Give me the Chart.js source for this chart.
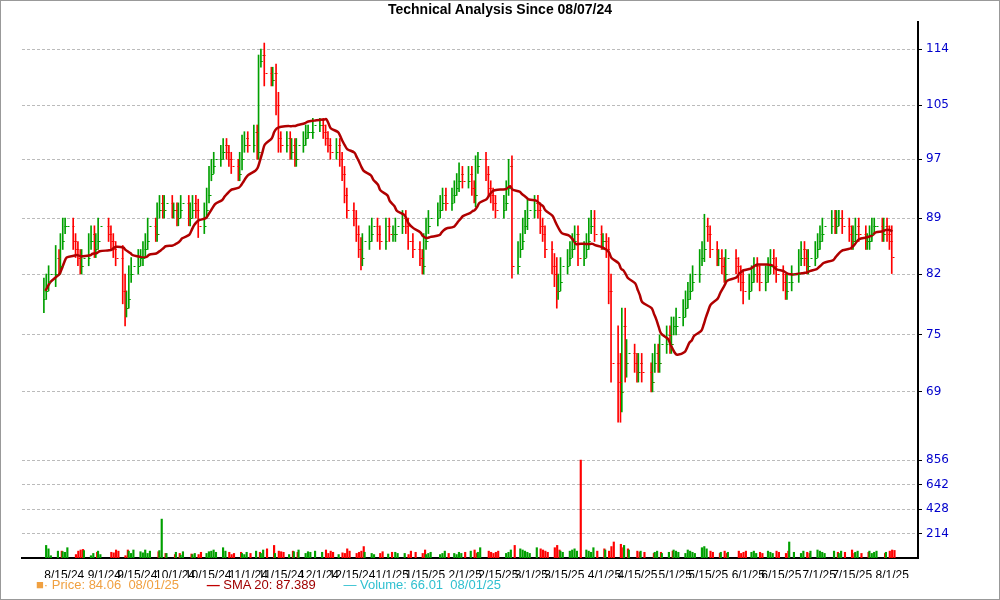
<!DOCTYPE html>
<html>
<head>
<meta charset="utf-8">
<script src="https://cdn.jsdelivr.net/npm/chart.js@4/dist/chart.umd.min.js"></script>
<style>
  body { margin: 0; background: #fff; font-family: "Liberation Sans", Arial, sans-serif; }
  #frame { position: absolute; left: 0; top: 0; width: 998px; height: 598px; border: 1px solid #999; }
  #title { position: absolute; top: 1px; width: 1000px; text-align: center; font-weight: bold; font-size: 14px; }
  #wrap { position: absolute; left: 0; top: 0; width: 1000px; height: 600px; }
  #legend { position: absolute; left: 36px; top: 577px; font-size: 13px; white-space: nowrap; }
  #legend span { margin-right: 24px; }
</style>
</head>
<body>
<div id="wrap"><canvas id="c"></canvas></div>
<div id="frame"></div>
<div id="title">Technical Analysis Since 08/07/24</div>
<div id="legend">
  <span style="color:#f0a040">&#9632;&middot; Price: 84.06&nbsp;&nbsp;08/01/25</span>
  <span style="color:#a00000"><b style="color:#c00000">&#8212;</b> SMA 20: 87.389</span>
  <span style="color:#30c0d0">&#8212; Volume: 66.01&nbsp;&nbsp;08/01/25</span>
</div>
<script>
/// Closes per month
const closeAug24 = [80,81,82,84,83,86,88,88,86,85,84,83,84,86,87,85,86,88];
const closeSep24 = [87,86,85,84,80,78,79,82,83,84,84,85,86,88,87,90,91,90,91,90];
const closeOct24 = [90,89,90,91,89,90,91,90,88,90,92,95,96,97,98,99,98,97,96,95,97,99,100];
const closeNov24 = [99,101,98,112,113,110,109,110,105,100,99,100,98,99,97,99,100,101,101,102];
const closeDec24 = [102,101,100,99,98,99,97,95,92,90,89,87,85,84,86,87,88,87,86,88,87];
const closeJan25 = [87,88,89,88,86,85,84,83,86,88,89,90,91,92,91,92,93,94,95,94];
const closeFeb25 = [95,93,92,96,97,95,93,92,91,90,91,93,96,83,85,86,88,89,90];
const closeMar25 = [91,90,88,87,85,83,82,80,81,83,84,85,86,87,84,85,86,88,89,87,86];
const closeApr25 = [86,85,80,72,70,69,76,72,73,72,71,72,71,70,72,73,72,74,75,74,76];
const closeMay25 = [76,77,78,79,80,81,82,84,85,88,87,85,84,84,83,82,84,83,82,81,80];
const closeJun25 = [81,82,83,82,81,82,83,84,83,82,81,80,81,82,84,85,84,83,84,85];
const closeJul25 = [86,87,88,89,88,89,89,88,87,86,87,88,87,86,86,87,88,88,87,88,87,86];
const closeAug25 = [84.06];

/// Wick size beyond open/close per day
const wickAug24 = [1.5,1,1,1.5,1,1,1,1,1,1,1,1,1,1,1,1,1,1];
const wickSep24 = [1,1,1,1,1.5,2,1,1,1,1,1,1,1,1,1,1,1,1,1,1];
const wickOct24 = [1,1,1,1,1,1,1,1,1.5,1,1,1,1,1,1,1,1,1,1,1,1,1.5,1];
const wickNov24 = [1,1,1,1,1,2,1,1,1.5,2,1,1,1,1,1,1,1,1,1,1];
const wickDec24 = [1,1,1,1,1,1,1,1,1,1,1,1,1,1.5,1,1,1,1,1,1,1];
const wickJan25 = [1,1,1,1,1,1,1,1,1,1,1,1,1,1,1,1,1,1,1.5,1];
const wickFeb25 = [1,1,1,1.5,1,1,1,1,1,1,1,1,1,1.5,1,1,1,1,1.5];
const wickMar25 = [1,1,1,1,1,1,1.5,2,1,1,1,1,1,1,1,1,1,1,1,1,1];
const wickApr25 = [1,1,1.5,2,4,3,2,2,1.5,1,1,1,1,1,1,1,1,1,1,1,1];
const wickMay25 = [1,1,1,1,1,1,1,1,1,1.5,1,1,1,1,1,1,1,1,1,1,1.5];
const wickJun25 = [1,1,1,1,1,1,1,1,1,1,1,1,1,1,1,1,1,1,1,1];
const wickJul25 = [1,1,1,1,1,1,1,1,1,1,1,1,1,1,1,1,1,1,1,1,1,1];
const wickAug25 = [2];

/// Volume per day
const volAug24 = [110,80,20,60,60,55,50,90,30,60,70,75,65,20,40,50,60,30];
const volSep24 = [50,45,70,60,20,70,60,40,70,55,45,70,40,60,55,65,340,40,40,30];
const volOct24 = [50,40,25,55,35,30,40,30,50,40,55,60,70,50,90,60,50,30,40,50,40,30,50];
const volNov24 = [40,60,50,40,70,80,110,40,60,55,50,30,60,55,50,70,40,55,50,60];
const volDec24 = [50,70,40,60,50,30,45,40,80,60,40,50,60,100,50,40,30,40,55,35,50];
const volJan25 = [50,40,40,30,60,50,40,70,30,40,50,30,40,60,40,40,30,50,40,50];
const volFeb25 = [60,70,40,50,90,60,50,40,50,60,40,50,70,110,80,70,60,50,40];
const volMar25 = [90,80,70,60,50,90,110,70,60,50,60,70,80,60,856,70,60,50,90,60,80];
const volApr25 = [70,60,100,140,120,90,110,80,70,60,50,60,50,40,50,60,50,40,50,60,70];
const volMay25 = [60,50,40,70,60,50,40,90,100,80,60,50,40,50,60,40,50,60,40,50,60];
const volJun25 = [50,60,40,50,40,60,50,40,60,50,40,60,140,50,40,60,50,40,60,70];
const volJul25 = [60,50,40,60,50,40,60,50,70,40,50,60,40,50,60,40,50,60,40,50,60,70];
const volAug25 = [66.01];

/// Date tick labels on the x axis
const tickLabels = ["8/15/24","9/1/24","9/15/24","10/1/24","10/15/24","11/1/24","11/15/24","12/1/24",
  "12/15/24","1/1/25","1/15/25","2/1/25","2/15/25","3/1/25","3/15/25","4/1/25","4/15/25","5/1/25",
  "5/15/25","6/1/25","6/15/25","7/1/25","7/15/25","8/1/25"];
const priceTicks = [69, 75, 82, 89, 97, 105, 114];
const volTicks = [214, 428, 642, 856];
const holidays = ["2024-09-02","2024-11-28","2024-12-25","2025-01-01","2025-01-09","2025-01-20",
  "2025-02-17","2025-04-18","2025-05-26","2025-06-19","2025-07-04"];

const closes = [].concat(closeAug24, closeSep24, closeOct24, closeNov24, closeDec24, closeJan25,
  closeFeb25, closeMar25, closeApr25, closeMay25, closeJun25, closeJul25, closeAug25);
const wicks = [].concat(wickAug24, wickSep24, wickOct24, wickNov24, wickDec24, wickJan25,
  wickFeb25, wickMar25, wickApr25, wickMay25, wickJun25, wickJul25, wickAug25);
const vols = [].concat(volAug24, volSep24, volOct24, volNov24, volDec24, volJan25,
  volFeb25, volMar25, volApr25, volMay25, volJun25, volJul25, volAug25);

const DAY = 86400000;
const START = Date.UTC(2024, 7, 7);

// ── Trading days as day offsets from 8/7/24 ──
const days = [];
for (let t = START; t <= Date.UTC(2025, 7, 1); t += DAY) {
  const d = new Date(t);
  const wd = d.getUTCDay();
  if (wd === 0 || wd === 6) continue;
  if (holidays.includes(d.toISOString().slice(0, 10))) continue;
  days.push((t - START) / DAY);
}

function labelDay(lbl) {
  const [m, d, y] = lbl.split("/").map(Number);
  return (Date.UTC(2000 + y, m - 1, d) - START) / DAY;
}

const UP = "#00a000", DOWN = "#ff0000";
const upRange = [], downRange = [], ohlc = [], upVol = [], downVol = [], sma = [];
for (let i = 0; i < closes.length; i++) {
  const o = i ? closes[i - 1] : 79;
  const c = closes[i];
  const hi = Math.max(o, c) + wicks[i], lo = Math.min(o, c) - wicks[i];
  const up = c >= o;
  ohlc.push({ x: days[i], o, c, up });
  (up ? upRange : downRange).push({ x: days[i], y: [lo, hi] });
  (up ? upVol : downVol).push({ x: days[i], y: vols[i] });
  const win = closes.slice(Math.max(0, i - 19), i + 1);
  sma.push({ x: days[i], y: win.reduce((a, b) => a + b, 0) / win.length });
}

// Open/close ticks drawn on top of the range bars
const tickPlugin = {
  id: "ohlcTicks",
  afterDatasetsDraw(chart) {
    const { ctx, scales } = chart;
    ctx.save();
    ctx.lineWidth = 1;
    for (const b of ohlc) {
      const x = Math.round(scales.x.getPixelForValue(b.x)) + 0.5;
      ctx.strokeStyle = b.up ? UP : DOWN;
      const yo = Math.round(scales.y.getPixelForValue(b.o)) + 0.5;
      const yc = Math.round(scales.y.getPixelForValue(b.c)) + 0.5;
      ctx.beginPath();
      ctx.moveTo(x - 2, yo); ctx.lineTo(x, yo);
      ctx.moveTo(x, yc); ctx.lineTo(x + 2, yc);
      ctx.stroke();
    }
    ctx.restore();
  }
};

const rangeDs = (data, color) => ({ type: "bar", data, yAxisID: "y", backgroundColor: color,
  barThickness: 1, order: 2 });
const volDs = (data, color) => ({ type: "bar", data, yAxisID: "yv", backgroundColor: color,
  barThickness: 1.5, order: 3 });
const axisFont = { size: 12, family: "DejaVu Sans" };

new Chart(document.getElementById("c"), {
  data: {
    datasets: [
      { type: "line", data: sma, yAxisID: "y", borderColor: "#b00000", borderWidth: 2.5,
        pointRadius: 0, tension: 0.3, order: 1 },
      rangeDs(upRange, UP), rangeDs(downRange, DOWN),
      volDs(upVol, UP), volDs(downVol, DOWN)
    ]
  },
  options: {
    animation: false,
    responsive: true,
    maintainAspectRatio: false,
    layout: { padding: { left: 22, top: 22, right: 0, bottom: 22 } },
    plugins: { legend: { display: false }, tooltip: { enabled: false } },
    scales: {
      x: {
        type: "linear", min: -2, max: 362,
        grid: { display: false },
        border: { color: "#000", width: 2 },
        afterBuildTicks: s => { s.ticks = tickLabels.map(l => ({ value: labelDay(l) })); },
        afterFit: s => { s.height = 20; },
        ticks: {
          autoSkip: false, maxRotation: 0, padding: 2, color: "#000",
          font: { size: 12, family: "Liberation Sans" },
          callback: (v, i) => tickLabels[i]
        }
      },
      y: {
        type: "logarithmic", position: "right", stack: "p", stackWeight: 428,
        min: 63, max: 118.6,
        afterBuildTicks: s => { s.ticks = priceTicks.map(v => ({ value: v })); },
        afterFit: s => { s.width = 82; },
        border: { color: "#000", width: 2, dash: [3, 2] },
        grid: { color: "#bbb", tickColor: "#000", tickLength: 4 },
        ticks: { color: "#0000cc", padding: 4, font: axisFont, callback: v => v }
      },
      yv: {
        position: "right", stack: "p", stackWeight: 103, min: 0, max: 909,
        afterBuildTicks: s => { s.ticks = volTicks.map(v => ({ value: v })); },
        afterFit: s => { s.width = 82; },
        border: { color: "#000", width: 2, dash: [3, 2] },
        grid: { color: "#bbb", tickColor: "#000", tickLength: 4 },
        ticks: { color: "#0000cc", padding: 4, font: axisFont, callback: v => v }
      }
    }
  },
  plugins: [tickPlugin]
});
</script>
</body>
</html>
